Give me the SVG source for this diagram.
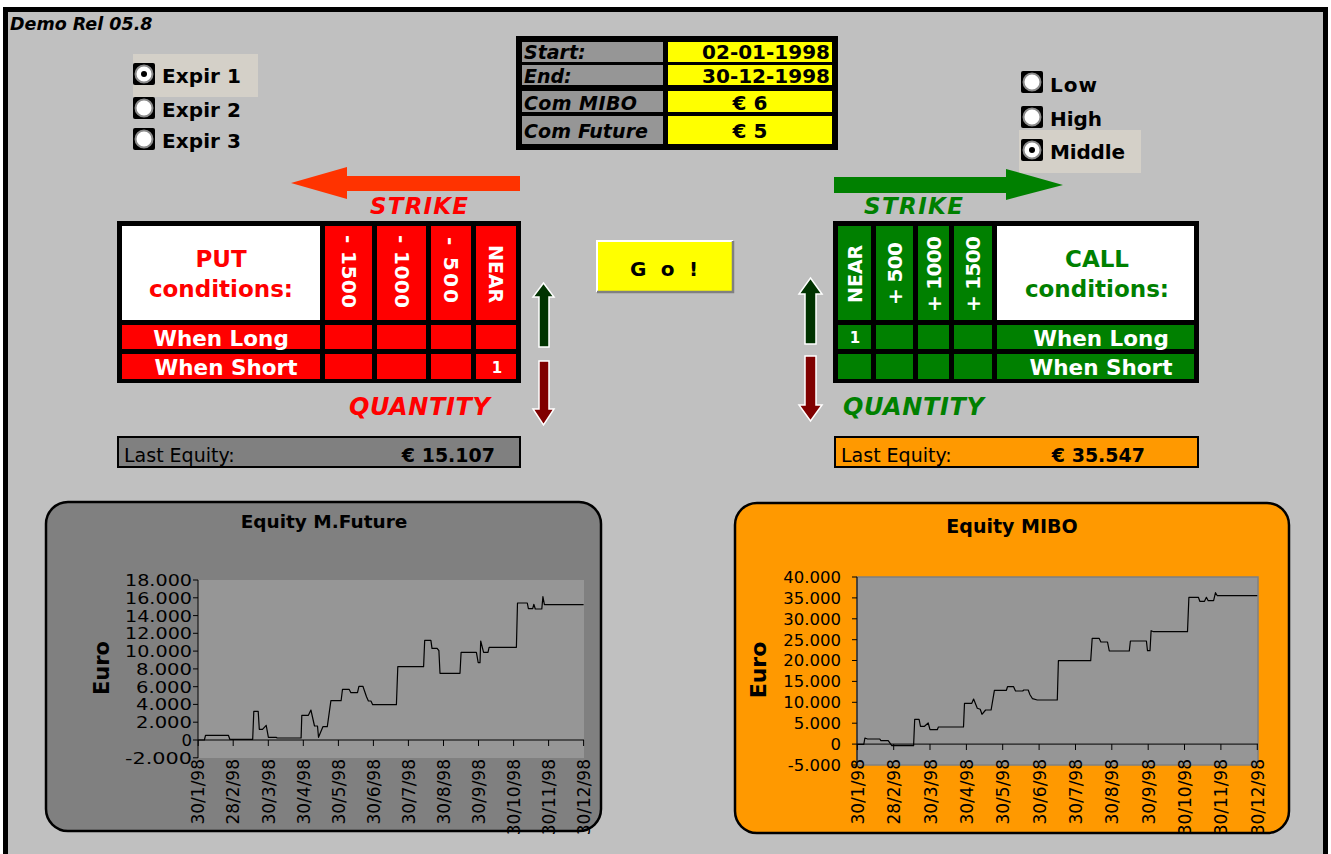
<svg xmlns="http://www.w3.org/2000/svg" xmlns:xlink="http://www.w3.org/1999/xlink" width="1331" height="854" viewBox="0 0 1331 854">
  <style>
    text { font-family: "DejaVu Sans", Verdana, sans-serif; }
    .b { font-weight: bold; }
    .bi { font-weight: bold; font-style: italic; }
    .w { fill: #FFFFFF; }
    .k { fill: #000000; }
    .red { fill: #FF0000; }
    .grn { fill: #008000; }
    .cellR { fill: #FF0000; }
    .cellG { fill: #008000; }
    .tick { font-size: 16.5px; fill: #000000; }
    .date { font-size: 17px; fill: #000000; text-anchor: end; }
    .axis { stroke: #000000; stroke-width: 1; fill: none; }
    .curve { stroke: #000000; stroke-width: 1.2; fill: none; stroke-linejoin: round; }
    .qty { stroke: #FFFFFF; stroke-width: 1.5; }
  </style>
  <defs>
    <g id="radio">
      <rect x="0" y="0" width="22" height="22" rx="2" fill="#000000"/>
      <circle cx="11" cy="11" r="8.5" fill="#FFFFFF" stroke="#8C8C8C" stroke-width="2"/>
    </g>
    <g id="radioOn">
      <use xlink:href="#radio"/>
      <circle cx="11" cy="11" r="3" fill="#000000"/>
    </g>
  </defs>

  <!-- sheet background and frame -->
  <rect x="0" y="0" width="1331" height="854" fill="#FFFFFF"/>
  <rect x="5.5" y="9.5" width="1320" height="900" fill="#C0C0C0" stroke="#000000" stroke-width="5"/>
  <text x="10" y="30" class="bi" font-size="17.5">Demo Rel 05.8</text>

  <!-- expiry selector -->
  <g id="expiry">
    <rect x="133" y="54" width="125" height="43" fill="#D4D0C8"/>
    <use xlink:href="#radioOn" x="133" y="63"/>
    <use xlink:href="#radio" x="133" y="97"/>
    <use xlink:href="#radio" x="133" y="128"/>
    <text x="162" y="83" class="b" font-size="20" textLength="79">Expir 1</text>
    <text x="162" y="117" class="b" font-size="20" textLength="79">Expir 2</text>
    <text x="162" y="148" class="b" font-size="20" textLength="79">Expir 3</text>
  </g>

  <!-- strike level selector -->
  <g id="level">
    <rect x="1019" y="130" width="122" height="43" fill="#D4D0C8"/>
    <use xlink:href="#radio" x="1021" y="71"/>
    <use xlink:href="#radio" x="1021" y="106"/>
    <use xlink:href="#radioOn" x="1021" y="139"/>
    <text x="1050" y="92" class="b" font-size="20" textLength="47">Low</text>
    <text x="1050" y="126" class="b" font-size="20" textLength="52">High</text>
    <text x="1050" y="159" class="b" font-size="20" textLength="75">Middle</text>
  </g>

  <!-- period / commission parameters -->
  <g id="params">
    <rect x="516" y="36" width="322" height="114" fill="#000000"/>
    <rect x="522" y="42" width="141" height="20" fill="#969696"/>
    <rect x="522" y="65" width="141" height="20" fill="#969696"/>
    <rect x="522" y="91" width="141" height="21" fill="#969696"/>
    <rect x="522" y="116" width="141" height="28" fill="#969696"/>
    <rect x="668" y="42" width="164" height="20" fill="#FFFF00"/>
    <rect x="668" y="65" width="164" height="20" fill="#FFFF00"/>
    <rect x="668" y="91" width="164" height="21" fill="#FFFF00"/>
    <rect x="668" y="116" width="164" height="28" fill="#FFFF00"/>
    <text x="524" y="59" class="bi" font-size="19">Start:</text>
    <text x="524" y="83" class="bi" font-size="19">End:</text>
    <text x="524" y="110" class="bi" font-size="19" textLength="113">Com MIBO</text>
    <text x="524" y="138" class="bi" font-size="19" textLength="124">Com Future</text>
    <text x="830" y="59" class="b" font-size="20" text-anchor="end">02-01-1998</text>
    <text x="830" y="83" class="b" font-size="20" text-anchor="end">30-12-1998</text>
    <text x="750" y="110" class="b" font-size="20" text-anchor="middle">€ 6</text>
    <text x="750" y="138" class="b" font-size="20" text-anchor="middle">€ 5</text>
  </g>

  <!-- Go button -->
  <g id="go">
    <rect x="597" y="241" width="136" height="51" fill="#FFFF00"/>
    <path d="M597 292 V241 H733" fill="none" stroke="#FFFFFF" stroke-width="2"/>
    <path d="M597 292 H733 V241" fill="none" stroke="#808080" stroke-width="2.5"/>
    <text x="630" y="276" class="b" font-size="20" textLength="68">G o !</text>
  </g>

  <!-- put side -->
  <g id="put">
    <polygon points="291,183 347,167 347,176 520,176 520,191 347,191 347,199" fill="#FF3300"/>
    <text x="370" y="214" class="bi red" font-size="23" textLength="98">STRIKE</text>
    <rect x="117" y="221" width="404" height="162" fill="#000000"/>
    <rect x="122" y="226" width="198" height="94" fill="#FFFFFF"/>
    <rect x="325" y="226" width="47" height="94" class="cellR"/>
    <rect x="377" y="226" width="49" height="94" class="cellR"/>
    <rect x="431" y="226" width="40" height="94" class="cellR"/>
    <rect x="476" y="226" width="40" height="94" class="cellR"/>
    <rect x="122" y="325" width="198" height="24" class="cellR"/>
    <rect x="325" y="325" width="47" height="24" class="cellR"/>
    <rect x="377" y="325" width="49" height="24" class="cellR"/>
    <rect x="431" y="325" width="40" height="24" class="cellR"/>
    <rect x="476" y="325" width="40" height="24" class="cellR"/>
    <rect x="122" y="354" width="198" height="25" class="cellR"/>
    <rect x="325" y="354" width="47" height="25" class="cellR"/>
    <rect x="377" y="354" width="49" height="25" class="cellR"/>
    <rect x="431" y="354" width="40" height="25" class="cellR"/>
    <rect x="476" y="354" width="40" height="25" class="cellR"/>
    <text x="221" y="267" class="b red" font-size="23" text-anchor="middle">PUT</text>
    <text x="221" y="297" class="b red" font-size="23" text-anchor="middle">conditions:</text>
    <text transform="translate(341.5,235) rotate(90)" class="b w" font-size="20" textLength="73">- 1500</text>
    <text transform="translate(394.5,235) rotate(90)" class="b w" font-size="20" textLength="73">- 1000</text>
    <text transform="translate(444,237) rotate(90)" class="b w" font-size="20" textLength="66">- 500</text>
    <text transform="translate(489,245) rotate(90)" class="b w" font-size="19">NEAR</text>
    <text x="221" y="346" class="b w" font-size="21.5" text-anchor="middle">When Long</text>
    <text x="226" y="375" class="b w" font-size="21.5" text-anchor="middle">When Short</text>
    <text x="497" y="373" class="b w" font-size="15" text-anchor="middle">1</text>
    <text x="349" y="415" class="bi red" font-size="24" textLength="141">QUANTITY</text>
    <polygon class="qty" points="543.5,283 554,297 549,297 549,347 539,347 539,297 533,297" fill="#003300"/>
    <polygon class="qty" points="539,361 549,361 549,409 554,409 543.5,425 533,409 539,409" fill="#800000"/>
  </g>

  <!-- call side -->
  <g id="call">
    <polygon points="834,177 1006,177 1006,169 1063,185 1006,200 1006,193 834,193" fill="#008000"/>
    <text x="864" y="214" class="bi grn" font-size="23" textLength="99">STRIKE</text>
    <rect x="833" y="221" width="366" height="162" fill="#000000"/>
    <rect x="997" y="226" width="197" height="94" fill="#FFFFFF"/>
    <rect x="838" y="226" width="33" height="94" class="cellG"/>
    <rect x="876" y="226" width="37" height="94" class="cellG"/>
    <rect x="918" y="226" width="31" height="94" class="cellG"/>
    <rect x="954" y="226" width="38" height="94" class="cellG"/>
    <rect x="838" y="325" width="33" height="24" class="cellG"/>
    <rect x="876" y="325" width="37" height="24" class="cellG"/>
    <rect x="918" y="325" width="31" height="24" class="cellG"/>
    <rect x="954" y="325" width="38" height="24" class="cellG"/>
    <rect x="997" y="325" width="197" height="24" class="cellG"/>
    <rect x="838" y="354" width="33" height="25" class="cellG"/>
    <rect x="876" y="354" width="37" height="25" class="cellG"/>
    <rect x="918" y="354" width="31" height="25" class="cellG"/>
    <rect x="954" y="354" width="38" height="25" class="cellG"/>
    <rect x="997" y="354" width="197" height="25" class="cellG"/>
    <text x="1097" y="267" class="b grn" font-size="23" text-anchor="middle">CALL</text>
    <text x="1097" y="297" class="b grn" font-size="23" text-anchor="middle">conditions:</text>
    <text transform="translate(861.5,303) rotate(-90)" class="b w" font-size="19">NEAR</text>
    <text transform="translate(901.5,305) rotate(-90)" class="b w" font-size="20" textLength="63">+ 500</text>
    <text transform="translate(940.5,312) rotate(-90)" class="b w" font-size="20" textLength="76">+ 1000</text>
    <text transform="translate(980,312) rotate(-90)" class="b w" font-size="20" textLength="76">+ 1500</text>
    <text x="1101" y="346" class="b w" font-size="21.5" text-anchor="middle">When Long</text>
    <text x="1101" y="375" class="b w" font-size="21.5" text-anchor="middle">When Short</text>
    <text x="855" y="343" class="b w" font-size="15" text-anchor="middle">1</text>
    <text x="843" y="415" class="bi grn" font-size="24" textLength="141">QUANTITY</text>
    <polygon class="qty" points="810.5,278 822,294 816,294 816,344 805,344 805,294 799,294" fill="#003300"/>
    <polygon class="qty" points="805,356 816,356 816,405 822,405 810.5,421 799,405 805,405" fill="#800000"/>
  </g>

  <!-- last equity readouts -->
  <g id="lastFuture">
    <rect x="118" y="437" width="402" height="30" fill="#808080" stroke="#000000" stroke-width="2"/>
    <text x="124" y="462" font-size="19">Last Equity:</text>
    <text x="495" y="462" class="b" font-size="19" text-anchor="end">€ 15.107</text>
  </g>
  <g id="lastMibo">
    <rect x="835" y="437" width="363" height="30" fill="#FF9900" stroke="#000000" stroke-width="2"/>
    <text x="841" y="462" font-size="19">Last Equity:</text>
    <text x="1145" y="462" class="b" font-size="19" text-anchor="end">€ 35.547</text>
  </g>

  <!-- equity chart: mini future -->
  <g id="chartFuture">
    <rect x="46" y="502" width="555" height="329" rx="22" fill="#808080" stroke="#000000" stroke-width="2.5"/>
    <text x="324" y="528" class="b" font-size="18.5" text-anchor="middle">Equity M.Future</text>
    <rect x="198" y="580" width="386" height="178" fill="#969696"/>
    <text transform="translate(102,668) rotate(-90)" class="b" font-size="21" text-anchor="middle" dominant-baseline="central">Euro</text>
    <g class="tick" text-anchor="end" lengthAdjust="spacingAndGlyphs">
      <text x="192" y="586" textLength="67" lengthAdjust="spacingAndGlyphs">18.000</text>
      <text x="192" y="604" textLength="67" lengthAdjust="spacingAndGlyphs">16.000</text>
      <text x="192" y="622" textLength="67" lengthAdjust="spacingAndGlyphs">14.000</text>
      <text x="192" y="639" textLength="67" lengthAdjust="spacingAndGlyphs">12.000</text>
      <text x="192" y="657" textLength="67" lengthAdjust="spacingAndGlyphs">10.000</text>
      <text x="192" y="675" textLength="56" lengthAdjust="spacingAndGlyphs">8.000</text>
      <text x="192" y="693" textLength="56" lengthAdjust="spacingAndGlyphs">6.000</text>
      <text x="192" y="710" textLength="56" lengthAdjust="spacingAndGlyphs">4.000</text>
      <text x="192" y="728" textLength="56" lengthAdjust="spacingAndGlyphs">2.000</text>
      <text x="192" y="746">0</text>
      <text x="192" y="764" textLength="67" lengthAdjust="spacingAndGlyphs">-2.000</text>
    </g>
    <path class="axis" d="M198 580 V758 M193 580 H198 M193 597.8 H198 M193 615.6 H198 M193 633.3 H198 M193 651.1 H198 M193 668.9 H198 M193 686.7 H198 M193 704.4 H198 M193 722.2 H198 M193 740 H198 M193 757.8 H198"/>
    <path class="axis" d="M198 740 H584 M198.2 740 V746 M233.2 740 V746 M268.3 740 V746 M303.3 740 V746 M338.4 740 V746 M373.4 740 V746 M408.4 740 V746 M443.5 740 V746 M478.5 740 V746 M513.6 740 V746 M548.6 740 V746 M583.6 740 V746"/>
    <polyline class="curve" points="198.2,740 204.4,740 205.5,735.3 228.4,735.3 229.8,739.3 252.7,739.3 253.8,711.3 258.2,711.3 259.3,729.3 262.5,729.3 266.2,725.3 268.4,737.3 276.4,737.3 277.1,738 301.1,738 301.8,715.3 308.4,715.3 310.9,710 314.5,726 317.5,726 318.5,737.3 322.9,726.7 327.3,726.7 330.9,700.7 341.1,700.7 342.5,689.3 349.1,689.3 350.9,692.7 357.5,692.7 358.9,686.3 362.9,686.3 366.5,696.7 368.4,701 370.9,701 372.7,704.7 396.4,704.7 397.8,666.7 423.6,666.7 424.7,640.3 430.9,640.3 432,648.3 437.1,648.3 438.9,650.7 440,673.3 460,673.3 461.1,652.3 476.4,652.3 478.2,662.7 480,662.7 480.7,641 483.6,652.3 488,652.3 489.1,647.3 516.4,647.3 517.5,603 527.3,603 528.4,608.7 532.7,608.7 533.8,604.3 535.3,609 541.8,609 542.9,596.7 544.4,604.7 583.6,604.7"/>
    <g class="date">
      <text transform="translate(204.4,759) rotate(-90)">30/1/98</text>
      <text transform="translate(239.4,759) rotate(-90)">28/2/98</text>
      <text transform="translate(274.5,759) rotate(-90)">30/3/98</text>
      <text transform="translate(309.5,759) rotate(-90)">30/4/98</text>
      <text transform="translate(344.6,759) rotate(-90)">30/5/98</text>
      <text transform="translate(379.6,759) rotate(-90)">30/6/98</text>
      <text transform="translate(414.6,759) rotate(-90)">30/7/98</text>
      <text transform="translate(449.7,759) rotate(-90)">30/8/98</text>
      <text transform="translate(484.7,759) rotate(-90)">30/9/98</text>
      <text transform="translate(519.8,759) rotate(-90)">30/10/98</text>
      <text transform="translate(554.8,759) rotate(-90)">30/11/98</text>
      <text transform="translate(589.8,759) rotate(-90)">30/12/98</text>
    </g>
  </g>

  <!-- equity chart: MIBO -->
  <g id="chartMibo">
    <rect x="735" y="503" width="554" height="330" rx="22" fill="#FF9900" stroke="#000000" stroke-width="2.5"/>
    <text x="1012" y="533" class="b" font-size="19" text-anchor="middle">Equity MIBO</text>
    <rect x="857" y="577" width="401" height="188" fill="#969696" stroke="#808080" stroke-width="1.5"/>
    <text transform="translate(758,670) rotate(-90)" class="b" font-size="22" text-anchor="middle" dominant-baseline="central">Euro</text>
    <g class="tick" text-anchor="end">
      <text x="841" y="583">40.000</text>
      <text x="841" y="604">35.000</text>
      <text x="841" y="625">30.000</text>
      <text x="841" y="646">25.000</text>
      <text x="841" y="666">20.000</text>
      <text x="841" y="687">15.000</text>
      <text x="841" y="708">10.000</text>
      <text x="841" y="729">5.000</text>
      <text x="841" y="750">0</text>
      <text x="841" y="771">-5.000</text>
    </g>
    <path class="axis" d="M857 577 V765 M852 577 H857 M852 597.9 H857 M852 618.8 H857 M852 639.7 H857 M852 660.5 H857 M852 681.4 H857 M852 702.3 H857 M852 723.2 H857 M852 744.1 H857 M852 765 H857"/>
    <path class="axis" d="M857 744.1 H1258 M857.3 744.1 V750 M893.7 744.1 V750 M930 744.1 V750 M966.4 744.1 V750 M1002.7 744.1 V750 M1039.1 744.1 V750 M1075.5 744.1 V750 M1111.8 744.1 V750 M1148.2 744.1 V750 M1184.5 744.1 V750 M1220.9 744.1 V750 M1257.3 744.1 V750"/>
    <polyline class="curve" points="857.3,744.3 863.8,744.3 864.9,738 867.5,739 879.8,739 880.9,740.7 888.2,740.7 891.8,745.7 913.6,745.7 914.7,719.3 919.1,719.3 920.5,726.3 924.5,726.3 928.2,723 930,729.7 937.3,729.7 938.4,727 963.5,727 964.5,703.3 971.8,703.3 973.6,699 977.3,708.3 980.2,709.3 982,714.3 985.6,710 991.1,710 994.4,690.3 1006.4,690.3 1007.5,686.7 1013.6,686.7 1015.5,691 1022.7,691 1023.8,690 1028.2,690 1030,694.7 1032.5,698.7 1037.3,700 1057.3,700 1058.4,660.7 1090.7,660.7 1092.2,638.3 1099.1,638.3 1100.9,642 1107.5,642 1109.3,651 1129.3,651 1130.4,641 1146.4,641 1147.5,650.7 1150,650.7 1151.1,630.7 1153.6,631.7 1187.5,631.7 1188.9,597.3 1198.4,597.3 1199.8,601.3 1204.5,601.3 1206.4,597.3 1208.2,600.7 1213.6,600.7 1215.5,592.7 1217.3,595.7 1257.3,595.7"/>
    <g class="date">
      <text transform="translate(863.8,759) rotate(-90)">30/1/98</text>
      <text transform="translate(900.2,759) rotate(-90)">28/2/98</text>
      <text transform="translate(936.5,759) rotate(-90)">30/3/98</text>
      <text transform="translate(972.9,759) rotate(-90)">30/4/98</text>
      <text transform="translate(1009.2,759) rotate(-90)">30/5/98</text>
      <text transform="translate(1045.6,759) rotate(-90)">30/6/98</text>
      <text transform="translate(1082,759) rotate(-90)">30/7/98</text>
      <text transform="translate(1118.3,759) rotate(-90)">30/8/98</text>
      <text transform="translate(1154.7,759) rotate(-90)">30/9/98</text>
      <text transform="translate(1191,759) rotate(-90)">30/10/98</text>
      <text transform="translate(1227.4,759) rotate(-90)">30/11/98</text>
      <text transform="translate(1263.8,759) rotate(-90)">30/12/98</text>
    </g>
  </g>
</svg>
